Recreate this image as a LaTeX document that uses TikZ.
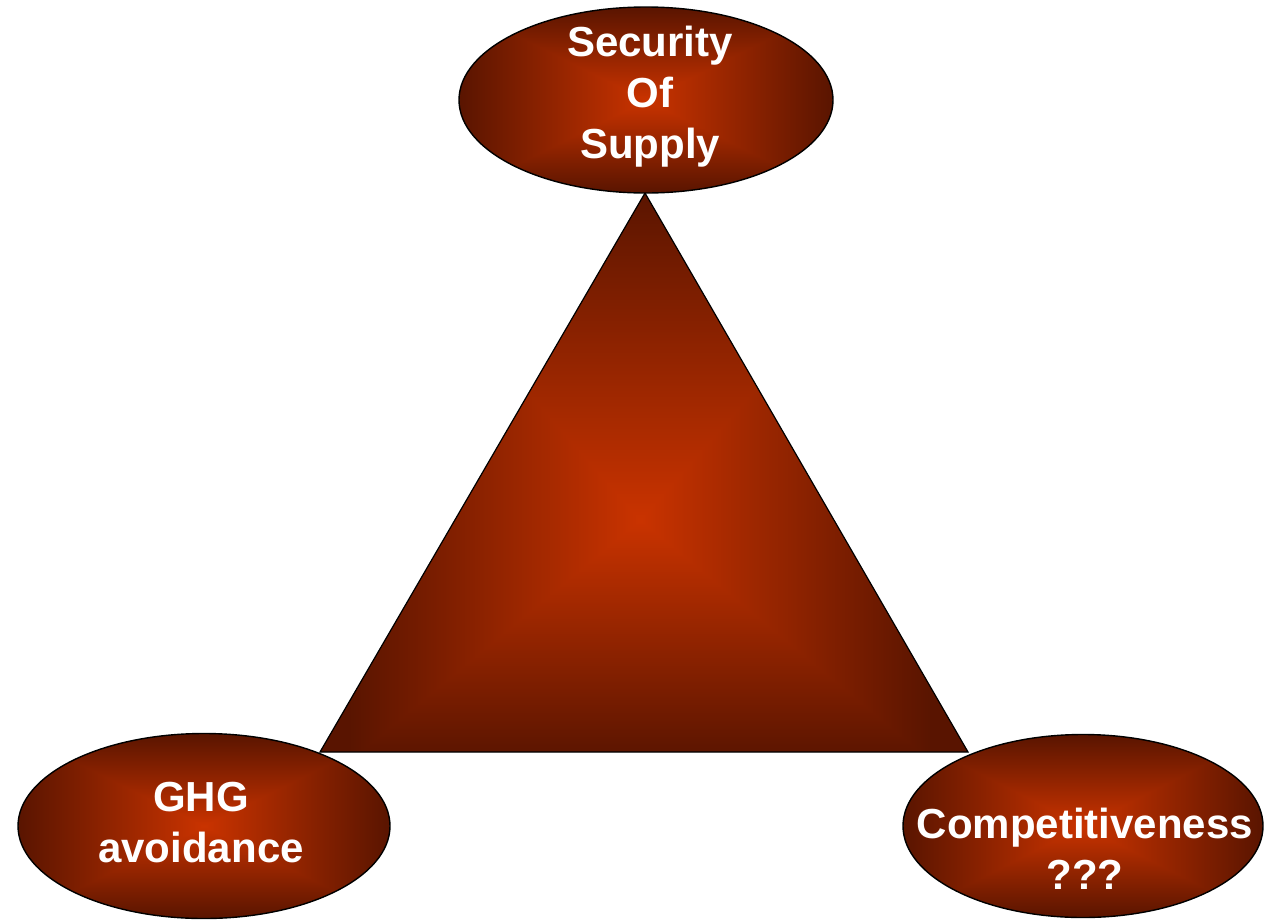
\documentclass[tikz,border=0pt]{standalone}
\usepackage{fontspec}
\setmainfont{Liberation Sans}
\usetikzlibrary{shapes.geometric}
\pgfdeclarefunctionalshading{rectglow}{\pgfpointorigin}{\pgfpoint{100bp}{100bp}}{}{
  50 sub abs 25 div exch 50 sub abs 25 div 2 copy lt {exch} if pop
  dup 1 gt {pop 1} if
  dup 0.44 mul 0.79 exch sub
  exch 0.12 mul 0.20 exch sub
  0
}
\pgfdeclarefunctionalshading{triglow}{\pgfpointorigin}{\pgfpoint{100bp}{100bp}}{}{
  45.75 sub dup 0 gt {29.5 div} {neg 21.5 div} ifelse
  exch 49.7 sub abs 22.4 div 2 copy lt {exch} if pop
  dup 1 gt {pop 1} if
  dup 0.44 mul 0.79 exch sub
  exch 0.12 mul 0.20 exch sub
  0
}
\tikzset{
  blob/.style={ellipse, draw=black, line width=1.4pt, shade, shading=rectglow, inner sep=0pt},
  lbl/.style={text=white, align=center, font=\fontsize{42}{51}\selectfont\bfseries, inner sep=0pt},
  triedge/.style={draw=black, line width=1.2pt, shade, shading=triglow}
}
\begin{document}
\begin{tikzpicture}[x=1pt,y=-1pt]
\useasboundingbox (0,0) rectangle (1264,919);
\coordinate (tA) at (645,193);
\coordinate (tB) at (320,752);
\coordinate (tC) at (968,752);
\draw[triedge] (tA) -- (tB) -- (tC) -- cycle;
\node[blob, minimum width=374pt, minimum height=186pt] (sos) at (646,100) {};
\node[blob, minimum width=372pt, minimum height=185pt] (ghg) at (204,826) {};
\node[blob, minimum width=360pt, minimum height=183pt] (comp) at (1083,826) {};
\node[lbl] (sost) at (650,97) {Security\\Of\\Supply};
\node[lbl] (ghgt) at (201,823) {GHG\\avoidance};
\node[lbl] (compt) at (1085,849) {Competitiveness\\???};
\end{tikzpicture}
\end{document}
